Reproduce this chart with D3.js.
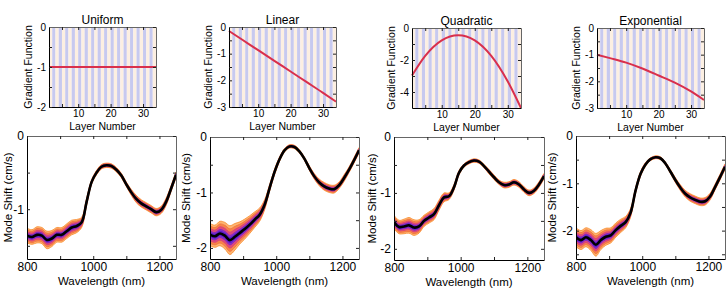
<!DOCTYPE html>
<html><head><meta charset="utf-8">
<script src="https://cdn.jsdelivr.net/npm/d3@7"></script>
<style>body{margin:0;background:#fff}svg{display:block;font-family:"Liberation Sans",Arial,sans-serif}</style>
</head><body><svg id="c" width="727" height="293"></svg>
<script>
// ---------- data ----------
const titles = ["Uniform", "Linear", "Quadratic", "Exponential"];
const layers = [1, 5, 10, 15, 20, 25, 30, 34];
const gradUniform     = [-1, -1, -1, -1, -1, -1, -1, -1];
const gradLinear      = [-0.15, -0.47, -0.87, -1.27, -1.67, -2.07, -2.47, -2.8];
const gradQuadratic   = [-2.97, -1.74, -0.77, -0.45, -0.77, -1.74, -3.34, -5.0];
const gradExponential = [-1.0, -1.13, -1.3, -1.52, -1.78, -2.05, -2.38, -2.7];

const wavelengths = [800,815,830,845,860,875,890,905,920,935,950,965,980,995,1010,1025,1040,1055,1070,1085,1100,1115,1130,1145,1160,1175,1190,1205,1220,1235,1250];
const shiftUniform = [-1.36,-1.38,-1.35,-1.36,-1.42,-1.40,-1.35,-1.35,-1.30,-1.25,-1.23,-1.18,-0.90,-0.63,-0.50,-0.42,-0.40,-0.41,-0.46,-0.54,-0.66,-0.77,-0.86,-0.92,-0.96,-1.00,-1.04,-1.01,-0.90,-0.72,-0.53];
const spreadUniform = [0.10,0.10,0.11,0.11,0.12,0.11,0.10,0.10,0.10,0.10,0.09,0.07,0.05,0.03,0.03,0.03,0.03,0.03,0.03,0.03,0.03,0.04,0.05,0.05,0.05,0.05,0.05,0.05,0.05,0.04,0.04];
const shiftLinear = [-1.76,-1.79,-1.74,-1.78,-1.86,-1.80,-1.73,-1.66,-1.58,-1.49,-1.40,-1.22,-0.92,-0.63,-0.40,-0.24,-0.17,-0.18,-0.26,-0.39,-0.56,-0.71,-0.82,-0.89,-0.93,-0.94,-0.87,-0.74,-0.59,-0.42,-0.24];
const spreadLinear = [0.20,0.20,0.22,0.24,0.26,0.24,0.20,0.18,0.16,0.14,0.12,0.09,0.06,0.05,0.04,0.03,0.03,0.03,0.03,0.03,0.04,0.05,0.06,0.07,0.07,0.07,0.06,0.06,0.05,0.05,0.05];
const shiftQuadratic = [-1.52,-1.61,-1.60,-1.58,-1.62,-1.60,-1.50,-1.44,-1.38,-1.22,-1.08,-1.06,-0.90,-0.64,-0.51,-0.45,-0.42,-0.44,-0.52,-0.62,-0.72,-0.81,-0.86,-0.85,-0.81,-0.85,-0.94,-1.00,-0.96,-0.85,-0.70];
const spreadQuadratic = [0.12,0.12,0.13,0.14,0.14,0.12,0.10,0.10,0.10,0.09,0.08,0.06,0.05,0.04,0.03,0.03,0.03,0.03,0.03,0.04,0.04,0.04,0.05,0.05,0.05,0.05,0.05,0.05,0.05,0.05,0.05];
const shiftExponential = [-2.14,-2.20,-2.14,-2.20,-2.30,-2.20,-2.13,-2.10,-1.99,-1.90,-1.82,-1.62,-1.15,-0.80,-0.60,-0.49,-0.45,-0.47,-0.58,-0.75,-0.93,-1.09,-1.22,-1.30,-1.35,-1.39,-1.38,-1.28,-1.08,-0.87,-0.65];
const spreadExponential = [0.20,0.20,0.20,0.22,0.24,0.20,0.18,0.16,0.15,0.14,0.12,0.09,0.06,0.05,0.04,0.03,0.03,0.03,0.03,0.04,0.05,0.06,0.07,0.08,0.08,0.08,0.08,0.07,0.06,0.06,0.06];

const gradYTicks = [[0,-1,-2],[0,-1,-2,-3],[0,-2,-4],[0,-1,-2,-3]];
const gradYMinor = [[-0.5,-1.5],[-0.5,-1.5,-2.5],[-1,-3],[-0.5,-1.5,-2.5]];
const gradYDomains = [[-2,0],[-3,0],[-5,0],[-3,0]];
const layerTicks = [10, 20, 30];
const layerMinor = [5, 15, 25];
const shiftYTicks = [[0,-1],[0,-1,-2],[0,-1,-2],[0,-1,-2]];
const shiftYMinor = [[-0.5,-1.5],[-0.5,-1.5],[-0.5,-1.5],[-0.5,-1.5,-2.5]];
const shiftYDomains = [[-1.68,0],[-2.2,0],[-2.2,0],[-2.6,0]];
const wavelengthTicks = [800, 1000, 1200];
const wavelengthMinor = [900, 1100];

const gradSeries = [gradUniform, gradLinear, gradQuadratic, gradExponential];
const shiftSeries = [shiftUniform, shiftLinear, shiftQuadratic, shiftExponential];
const spreadSeries = [spreadUniform, spreadLinear, spreadQuadratic, spreadExponential];

// ---------- layout ----------
const topBoxes = [[49,156,27,107],[229,336,27,107],[412,521,28,108],[597,704,28,108]];
const botBoxes = [[27,176,136,259],[210,359,137,259],[394,544,137,260],[576,725,136,259]];

const svg = d3.select("#c");
const fmt = d => String(d);

function frame(g, x, y, xt, xm, yt, ym, fs) {
  const [x0,x1] = x.range(), [y1,y0] = y.range();
  const all = (a,b)=>a.concat(b);
  const ax = g.append("g").attr("transform",`translate(0,${y1})`)
    .call(d3.axisBottom(x).tickValues(all(xt,xm)).tickSize(-3).tickSizeOuter(0).tickPadding(3)
      .tickFormat(d => xt.includes(d) ? fmt(d) : ""));
  const ay = g.append("g").attr("transform",`translate(${x0},0)`)
    .call(d3.axisLeft(y).tickValues(all(yt,ym)).tickSize(-3).tickSizeOuter(0).tickPadding(3)
      .tickFormat(d => yt.includes(d) ? fmt(d) : ""));
  const at = g.append("g").attr("transform",`translate(0,${y0})`)
    .call(d3.axisTop(x).tickValues(all(xt,xm)).tickSize(-3).tickSizeOuter(0).tickFormat(""));
  const ar = g.append("g").attr("transform",`translate(${x1},0)`)
    .call(d3.axisRight(y).tickValues(all(yt,ym)).tickSize(-3).tickSizeOuter(0).tickFormat(""));
  [ax,ay,at,ar].forEach(a => {
    a.selectAll("text").attr("font-size", fs).attr("fill","#000").attr("font-family","Liberation Sans, Arial, sans-serif");
    a.selectAll("line").attr("stroke","#222");
  });
  ax.select(".domain").attr("stroke","#000").attr("stroke-width",1);
  ay.select(".domain").attr("stroke","#000").attr("stroke-width",1);
  at.select(".domain").attr("stroke","#666");
  ar.select(".domain").attr("stroke","#666");
}

// ---------- top panels ----------
titles.forEach((t, i) => {
  const [x0,x1,y0,y1] = topBoxes[i];
  const x = d3.scaleLinear().domain([1,34]).range([x0,x1]);
  const y = d3.scaleLinear().domain(gradYDomains[i]).range([y1,y0]);
  const g = svg.append("g");
  const idx = d3.range(1, 34);
  g.selectAll("rect.s").data(idx).join("rect")
    .attr("x", d => x(d)).attr("width", d => x(d+1) - x(d))
    .attr("y", y0).attr("height", y1 - y0)
    .attr("fill", d => d % 2 === 0 ? "#c7c9ef" : "#fcefe2");
  g.append("path").datum(layers.map((l,k)=>[l, gradSeries[i][k]]))
    .attr("d", d3.line().x(d=>x(d[0])).y(d=>y(d[1])).curve(d3.curveMonotoneX))
    .attr("fill","none").attr("stroke","#d92f4c").attr("stroke-width",2);
  frame(g, x, y, layerTicks, layerMinor, gradYTicks[i], gradYMinor[i], 10);
  g.append("text").attr("x",(x0+x1)/2).attr("y",y0-3).attr("text-anchor","middle")
    .attr("font-size",12).text(t);
  g.append("text").attr("x",(x0+x1)/2).attr("y",y1+23).attr("text-anchor","middle")
    .attr("font-size",10.5).text("Layer Number");
  g.append("text").attr("transform",`translate(${x0-17},${(y0+y1)/2}) rotate(-90)`)
    .attr("text-anchor","middle").attr("font-size",10.5).text("Gradient Function");
});

// ---------- bottom panels ----------
titles.forEach((t, i) => {
  const [x0,x1,y0,y1] = botBoxes[i];
  const x = d3.scaleLinear().domain([800,1250]).range([x0,x1]);
  const y = d3.scaleLinear().domain(shiftYDomains[i]).range([y1,y0]);
  const g = svg.append("g");
  const clipId = "clip"+i;
  g.append("clipPath").attr("id",clipId).append("rect")
    .attr("x",x0).attr("y",y0).attr("width",x1-x0).attr("height",y1-y0);
  const pg = g.append("g").attr("clip-path",`url(#${clipId})`);
  const m = shiftSeries[i], s = spreadSeries[i];
  const pts = wavelengths.map((w,k)=>({w, m:m[k], s:s[k]}));
  const band = f => d3.area().x(d=>x(d.w)).y0(d=>y(d.m - f*d.s)).y1(d=>y(d.m + f*d.s)).curve(d3.curveCatmullRom);
  const edge = f => d3.line().x(d=>x(d.w)).y(d=>y(d.m + f*d.s)).curve(d3.curveCatmullRom);
  const bandStyle = [
    [1.0, "#fdb571", "#f98a2c"],
    [0.78, "#f7844a", "#f0703a"],
    [0.55, "#e0497a", "#d23f7a"],
    [0.33, "#8a2fc8", "#7a26c0"],
    [0.18, "#5b1fd4", "#5218c8"]
  ];
  bandStyle.forEach(([f, fill, stroke]) => {
    pg.append("path").datum(pts).attr("d", band(f)).attr("fill", fill).attr("stroke","none");
    [f, -f].forEach(ff => pg.append("path").datum(pts).attr("d", edge(ff))
      .attr("fill","none").attr("stroke",stroke).attr("stroke-width",0.8));
  });
  pg.append("path").datum(pts)
    .attr("d", d3.line().x(d=>x(d.w)).y(d=>y(d.m)).curve(d3.curveCatmullRom))
    .attr("fill","none").attr("stroke","#000").attr("stroke-width",2.6);
  frame(g, x, y, wavelengthTicks, wavelengthMinor, shiftYTicks[i], shiftYMinor[i], 12);
  g.append("text").attr("x",(x0+x1)/2).attr("y",y1+26).attr("text-anchor","middle")
    .attr("font-size",11.5).text("Wavelength (nm)");
  g.append("text").attr("transform",`translate(${x0-(i===0?15:i===2?18:20)},${(y0+y1)/2}) rotate(-90)`)
    .attr("text-anchor","middle").attr("font-size",11.5).text("Mode Shift (cm/s)");
});
</script></body></html>
